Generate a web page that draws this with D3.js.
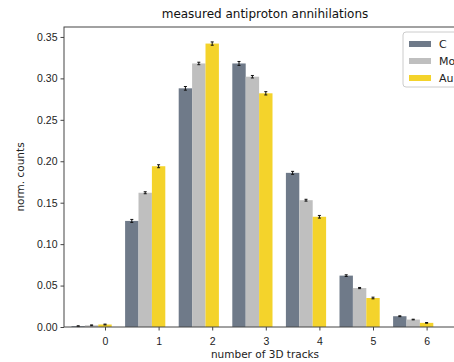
<!DOCTYPE html>
<html>
<head>
<meta charset="utf-8">
<script src="https://cdn.jsdelivr.net/npm/d3@7"></script>
<style>
  body { margin: 0; background: #fff; }
  svg { font-family: "DejaVu Sans", sans-serif; display: block; }
</style>
</head>
<body>
<svg id="chart" width="454" height="362"></svg>
<script>
// data
var tracks = [0, 1, 2, 3, 4, 5, 6];
var seriesNames = ["C", "Mo", "Au"];
var valC  = [0.001, 0.128, 0.288, 0.318, 0.186, 0.062, 0.013];
var valMo = [0.002, 0.162, 0.318, 0.302, 0.153, 0.047, 0.009];
var valAu = [0.003, 0.194, 0.342, 0.282, 0.133, 0.035, 0.005];
var errC  = [0.0005, 0.0018, 0.0022, 0.0024, 0.0018, 0.0010, 0.0005];
var errMo = [0.0005, 0.0012, 0.0015, 0.0015, 0.0011, 0.0007, 0.0004];
var errAu = [0.0005, 0.0018, 0.0020, 0.0020, 0.0016, 0.0010, 0.0004];
var yTicks = [0, 0.05, 0.10, 0.15, 0.20, 0.25, 0.30, 0.35];

var colors = ["#6f7a89", "#bfbfbf", "#f4d32b"];
var values = [valC, valMo, valAu];
var errors = [errC, errMo, errAu];

var margin = {top: 27, left: 64},
    width = 402,
    height = 300;

var svg = d3.select("#chart");
var g = svg.append("g")
  .attr("transform", "translate(" + margin.left + "," + margin.top + ")");

var x = d3.scaleLinear().domain([-0.765, 6.735]).range([0, width]);
var y = d3.scaleLinear().domain([0, 0.362]).range([height, 0]);
var barW = 0.25;

// flatten to one record per bar
var bars = [];
seriesNames.forEach(function(s, i) {
  tracks.forEach(function(t, j) {
    bars.push({series: i, t: t, v: values[i][j], e: errors[i][j]});
  });
});

g.selectAll("rect.bar")
  .data(bars)
.enter().append("rect")
  .attr("class", "bar")
  .attr("x", function(d) { return x(d.t - (2 - d.series) * barW - barW / 2); })
  .attr("width", function(d) { return x(barW) - x(0); })
  .attr("y", function(d) { return y(d.v); })
  .attr("height", function(d) { return y(0) - y(d.v); })
  .attr("fill", function(d) { return colors[d.series]; });

// error bars
var eb = g.selectAll("g.err")
  .data(bars)
.enter().append("g")
  .attr("class", "err")
  .attr("transform", function(d) { return "translate(" + x(d.t - (2 - d.series) * barW) + ",0)"; });

eb.append("line")
  .attr("y1", function(d) { return y(d.v - d.e); })
  .attr("y2", function(d) { return y(d.v + d.e); })
  .attr("stroke", "#111").attr("stroke-width", 1);
eb.append("line")
  .attr("x1", -1.5).attr("x2", 1.5)
  .attr("y1", function(d) { return y(d.v + d.e); })
  .attr("y2", function(d) { return y(d.v + d.e); })
  .attr("stroke", "#111").attr("stroke-width", 1);
eb.append("line")
  .attr("x1", -1.5).attr("x2", 1.5)
  .attr("y1", function(d) { return y(d.v - d.e); })
  .attr("y2", function(d) { return y(d.v - d.e); })
  .attr("stroke", "#111").attr("stroke-width", 1);

// axes
var xAxis = g.append("g")
  .attr("transform", "translate(0," + height + ")")
  .call(d3.axisBottom(x).tickValues(tracks).tickFormat(d3.format("d")).tickSizeInner(3.5).tickSizeOuter(0));
var yAxis = g.append("g")
  .call(d3.axisLeft(y).tickValues(yTicks).tickFormat(d3.format(".2f")).tickSizeInner(3.5).tickSizeOuter(0));

[xAxis, yAxis].forEach(function(a) {
  a.select(".domain").remove();
  a.selectAll("line").attr("stroke", "#444");
  a.selectAll("text").attr("fill", "#222").style("font-size", "10.5px");
});
xAxis.selectAll("text").attr("dy", "1.05em");

// frame
g.append("rect")
  .attr("width", width).attr("height", height)
  .attr("fill", "none").attr("stroke", "#444").attr("stroke-width", 1);

// labels
svg.append("text")
  .attr("x", margin.left + width / 2).attr("y", 18)
  .attr("text-anchor", "middle")
  .style("font-size", "12px").attr("fill", "#111")
  .text("measured antiproton annihilations");

svg.append("text")
  .attr("x", margin.left + width / 2).attr("y", 358)
  .attr("text-anchor", "middle")
  .style("font-size", "10.5px").attr("fill", "#222")
  .text("number of 3D tracks");

svg.append("text")
  .attr("transform", "translate(24," + (margin.top + height / 2) + ") rotate(-90)")
  .attr("text-anchor", "middle")
  .style("font-size", "10.5px").attr("fill", "#222")
  .text("norm. counts");

// legend
var legend = svg.append("g").attr("transform", "translate(403,32)");
legend.append("rect")
  .attr("width", 80).attr("height", 55)
  .attr("rx", 3)
  .attr("fill", "#fff").attr("stroke", "#ccc");
var item = legend.selectAll("g.item")
  .data(seriesNames)
.enter().append("g")
  .attr("class", "item")
  .attr("transform", function(d, i) { return "translate(6," + (9 + i * 17) + ")"; });
item.append("rect")
  .attr("width", 22).attr("height", 6)
  .attr("fill", function(d, i) { return colors[i]; });
item.append("text")
  .attr("x", 30).attr("y", 7)
  .style("font-size", "11px").attr("fill", "#222")
  .text(function(d) { return d; });
</script>
</body>
</html>
